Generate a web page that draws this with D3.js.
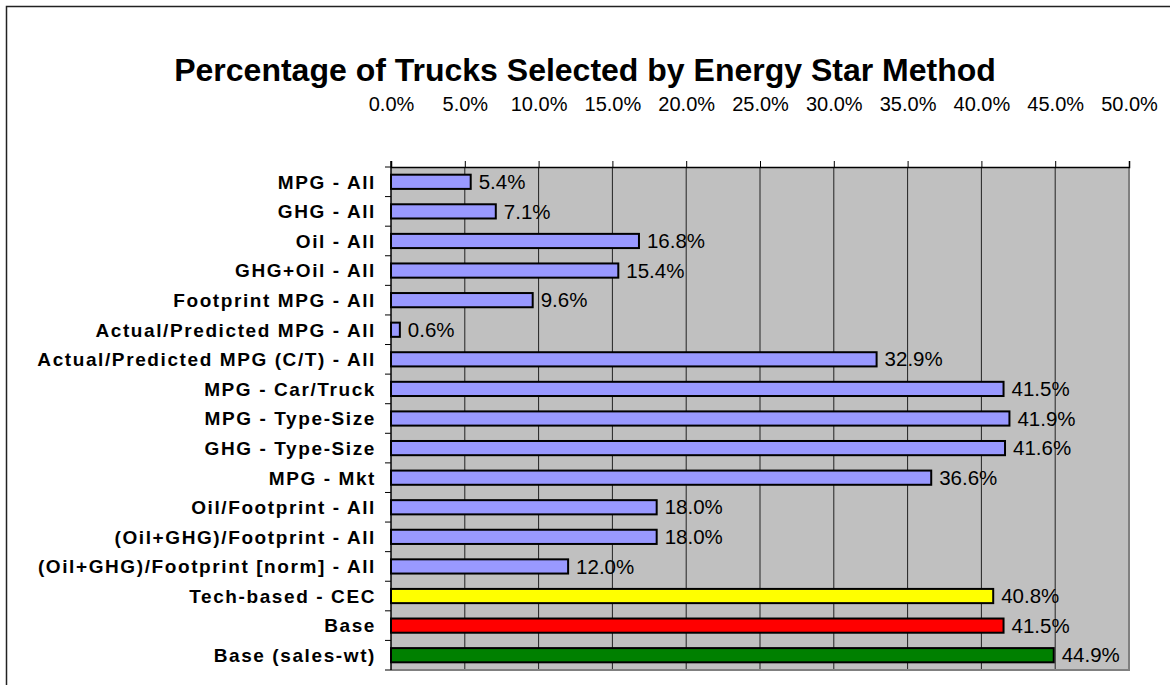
<html>
<head>
<title>Percentage of Trucks Selected</title>
<script src="https://cdnjs.cloudflare.com/ajax/libs/d3/7.8.5/d3.min.js"></script>
<style>
  body { margin: 0; background: #fff; }
  text { font-family: Arial, "Liberation Sans", sans-serif; }
</style>
</head>
<body>
<svg class="chart"></svg>
<script>
var categories = ["MPG - All", "GHG - All", "Oil - All", "GHG+Oil - All", "Footprint MPG - All",
  "Actual/Predicted MPG - All", "Actual/Predicted MPG (C/T) - All", "MPG - Car/Truck",
  "MPG - Type-Size", "GHG - Type-Size", "MPG - Mkt", "Oil/Footprint - All",
  "(Oil+GHG)/Footprint - All", "(Oil+GHG)/Footprint [norm] - All", "Tech-based - CEC",
  "Base", "Base (sales-wt)"];
var values = [0.054, 0.071, 0.168, 0.154, 0.096, 0.006, 0.329, 0.415, 0.419, 0.416, 0.366,
  0.180, 0.180, 0.120, 0.408, 0.415, 0.449];
var barColors = ["#9999ff", "#9999ff", "#9999ff", "#9999ff", "#9999ff", "#9999ff", "#9999ff",
  "#9999ff", "#9999ff", "#9999ff", "#9999ff", "#9999ff", "#9999ff", "#9999ff",
  "#ffff00", "#ff0000", "#008000"];
var tickValues = [0, 0.05, 0.10, 0.15, 0.20, 0.25, 0.30, 0.35, 0.40, 0.45, 0.50];

var W = 1170, H = 685;
var plot = {left: 391, right: 1129, top: 167, bottom: 670};

var svg = d3.select(".chart").attr("width", W).attr("height", H);

// outer frame
svg.append("rect").attr("x", 6.5).attr("y", 6.5).attr("width", 1200).attr("height", 700)
  .attr("fill", "none").attr("stroke", "#222").attr("stroke-width", 1.5);

svg.append("text").attr("x", 585).attr("y", 81).attr("text-anchor", "middle")
  .style("font-weight", "bold").style("font-size", "32px")
  .text("Percentage of Trucks Selected by Energy Star Method");

var x = d3.scaleLinear().domain([0, 0.5]).range([plot.left, plot.right]);
var y = d3.scaleBand().domain(categories).range([plot.top, plot.bottom])
  .paddingInner(0.52).paddingOuter(0.26);

// plot background
svg.append("rect").attr("x", plot.left).attr("y", plot.top)
  .attr("width", plot.right - plot.left).attr("height", plot.bottom - plot.top)
  .attr("fill", "#c0c0c0");

// gridlines
svg.append("g").selectAll("line").data(tickValues.slice(1, -1)).enter().append("line")
  .attr("x1", function(d) { return x(d); }).attr("x2", function(d) { return x(d); })
  .attr("y1", plot.top).attr("y2", plot.bottom)
  .attr("stroke", "#222").attr("stroke-width", 1);

// right + bottom border
svg.append("path")
  .attr("d", "M" + plot.right + "," + plot.top + "V" + plot.bottom + "H" + plot.left)
  .attr("fill", "none").attr("stroke", "#808080").attr("stroke-width", 2);

// top axis
var xAxis = d3.axisTop(x).tickValues(tickValues).tickSize(6).tickPadding(50)
  .tickFormat(d3.format(".1%"));
var gx = svg.append("g").attr("transform", "translate(0," + plot.top + ")").call(xAxis);
gx.select(".domain").attr("stroke", "#000").attr("stroke-width", 1.5);
gx.selectAll("text").style("font-size", "20px").attr("fill", "#000")
  .style("font-family", "Arial, 'Liberation Sans', sans-serif");

// left axis with ticks at band boundaries
var gy = svg.append("g");
gy.append("line").attr("x1", plot.left).attr("x2", plot.left)
  .attr("y1", plot.top - 6).attr("y2", plot.bottom)
  .attr("stroke", "#000").attr("stroke-width", 1.5);
var bounds = d3.range(categories.length + 1);
gy.selectAll(".yt").data(bounds).enter().append("line").attr("class", "yt")
  .attr("x1", plot.left - 6).attr("x2", plot.left)
  .attr("y1", function(i) { return plot.top + i * y.step(); })
  .attr("y2", function(i) { return plot.top + i * y.step(); })
  .attr("stroke", "#000").attr("stroke-width", 1);
gy.selectAll(".cl").data(categories).enter().append("text").attr("class", "cl")
  .attr("x", plot.left - 15)
  .attr("y", function(d) { return y(d) + y.bandwidth() / 2; })
  .attr("dy", "0.36em").attr("text-anchor", "end")
  .style("font-weight", "bold").style("font-size", "19px")
  .style("letter-spacing", "1.6px")
  .text(function(d) { return d; });

// bars
svg.append("g").selectAll("rect").data(values).enter().append("rect")
  .attr("x", x(0))
  .attr("y", function(d, i) { return y(categories[i]); })
  .attr("width", function(d) { return x(d) - x(0); })
  .attr("height", y.bandwidth())
  .attr("fill", function(d, i) { return barColors[i]; })
  .attr("stroke", "#000").attr("stroke-width", 2);

// value labels
svg.append("g").selectAll("text").data(values).enter().append("text")
  .attr("x", function(d) { return x(d) + 8; })
  .attr("y", function(d, i) { return y(categories[i]) + y.bandwidth() / 2; })
  .attr("dy", "0.35em")
  .style("font-size", "20.5px")
  .text(function(d) { return d3.format(".1%")(d); });
</script>
</body>
</html>
